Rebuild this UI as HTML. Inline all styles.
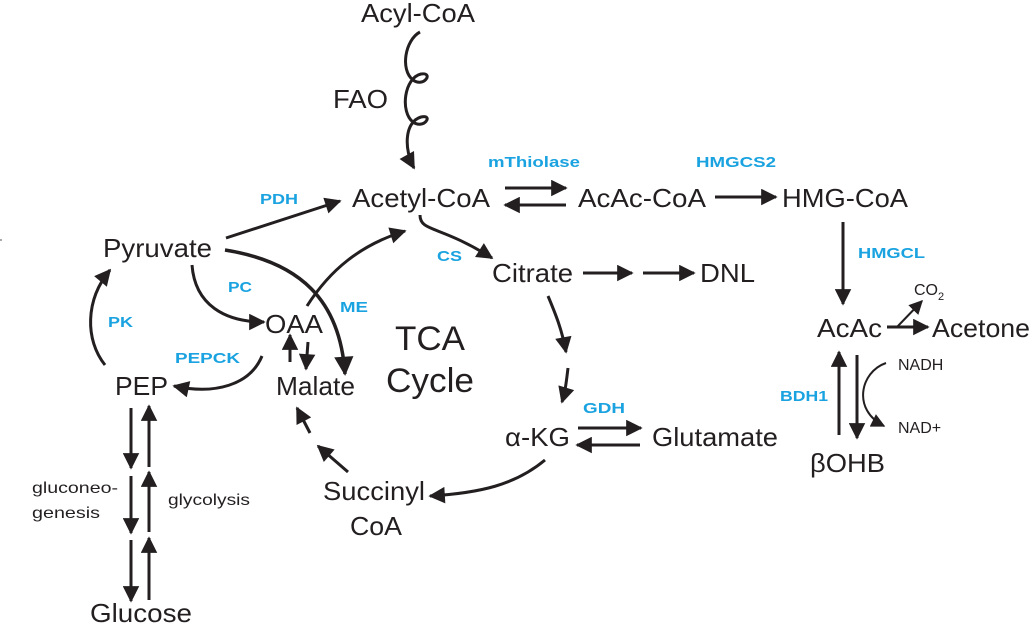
<!DOCTYPE html>
<html><head><meta charset="utf-8"><style>
html,body{margin:0;padding:0;background:#fff;}
svg{display:block;}
text{font-family:"Liberation Sans",Arial,Helvetica,sans-serif;fill:#231f20;}
.b{fill:#1aa3e0;font-weight:bold;font-size:15px;}
.m{font-size:26px;}
.s{font-size:16px;}
</style></head><body>
<svg width="1032" height="628" viewBox="0 0 1032 628">
<defs>
<marker id="a" viewBox="0 0 10 10" refX="9" refY="5" markerWidth="6" markerHeight="5.5" orient="auto" markerUnits="strokeWidth"><path d="M0,0L10,5L0,10z" fill="#231f20"/></marker>
<marker id="as" viewBox="0 0 10 10" refX="9" refY="5" markerWidth="7" markerHeight="7" orient="auto" markerUnits="strokeWidth"><path d="M0,0L10,5L0,10z" fill="#231f20"/></marker>
</defs>
<g fill="none" stroke="#231f20" stroke-width="3">
<path d="M420,32 C405,40 400,70 413,80 C424,88 434,72 421,74 C404,78 400,112 413,122 C424,130 434,114 421,117 C404,122 404,150 414,168" marker-end="url(#a)"/>
<line x1="505" y1="188" x2="566" y2="188" marker-end="url(#a)"/>
<line x1="566" y1="205" x2="505" y2="205" marker-end="url(#a)"/>
<line x1="715" y1="197" x2="776" y2="197" marker-end="url(#a)"/>
<line x1="843" y1="222" x2="843" y2="304" marker-end="url(#a)"/>
<line x1="887" y1="327" x2="928" y2="327" marker-end="url(#a)"/>
<line x1="897" y1="327" x2="922" y2="301" stroke-width="2" marker-end="url(#as)"/>
<line x1="839" y1="435" x2="839" y2="352" marker-end="url(#a)"/>
<line x1="857" y1="355" x2="857" y2="438" marker-end="url(#a)"/>
<path d="M886,363 C860,372 852,410 884,426" stroke-width="2" marker-end="url(#as)"/>
<line x1="226" y1="238" x2="340" y2="201" marker-end="url(#a)"/>
<path d="M225,250 C300,262 340,300 345,374" stroke-width="3.5" marker-end="url(#a)"/>
<path d="M192,265 C195,305 225,322 264,322" marker-end="url(#a)"/>
<path d="M307,306 C330,270 360,245 405,231" marker-end="url(#a)"/>
<path d="M420,215 C420,232 440,225 492,258" marker-end="url(#a)"/>
<line x1="583" y1="273" x2="632" y2="273" marker-end="url(#a)"/>
<line x1="643" y1="273" x2="694" y2="273" marker-end="url(#a)"/>
<path d="M548,296 C556,315 562,330 566,352" marker-end="url(#a)"/>
<path d="M568,368 C566,385 565,392 562,402" marker-end="url(#a)"/>
<line x1="578" y1="428" x2="641" y2="428" marker-end="url(#a)"/>
<line x1="640" y1="445" x2="577" y2="445" marker-end="url(#a)"/>
<path d="M545,460 C515,485 480,493 430,496" marker-end="url(#a)"/>
<line x1="348" y1="472" x2="318" y2="446" marker-end="url(#a)"/>
<line x1="310" y1="433" x2="297" y2="408" marker-end="url(#a)"/>
<line x1="290" y1="362" x2="290" y2="335" marker-end="url(#a)"/>
<line x1="308" y1="342" x2="306" y2="369" marker-end="url(#a)"/>
<path d="M262,356 C250,385 215,395 174,386" marker-end="url(#a)"/>
<path d="M105,365 C85,340 85,300 110,270" marker-end="url(#a)"/>
<line x1="131" y1="408" x2="131" y2="468" marker-end="url(#a)"/>
<line x1="131" y1="476" x2="131" y2="533" marker-end="url(#a)"/>
<line x1="131" y1="540" x2="131" y2="601" marker-end="url(#a)"/>
<line x1="149" y1="467" x2="149" y2="406" marker-end="url(#a)"/>
<line x1="149" y1="532" x2="149" y2="472" marker-end="url(#a)"/>
<line x1="149" y1="600" x2="149" y2="538" marker-end="url(#a)"/>
</g>
<line x1="0" y1="240" x2="2" y2="240" stroke="#555" stroke-width="1"/>
<g lengthAdjust="spacingAndGlyphs">
<text class="m" x="361" y="22" textLength="114" lengthAdjust="spacingAndGlyphs">Acyl-CoA</text>
<text class="m" x="333" y="108" textLength="55" lengthAdjust="spacingAndGlyphs">FAO</text>
<text class="m" x="352" y="207" textLength="138" lengthAdjust="spacingAndGlyphs">Acetyl-CoA</text>
<text class="m" x="578" y="207" textLength="128" lengthAdjust="spacingAndGlyphs">AcAc-CoA</text>
<text class="m" x="782" y="207" textLength="126" lengthAdjust="spacingAndGlyphs">HMG-CoA</text>
<text class="m" x="817" y="337" textLength="65" lengthAdjust="spacingAndGlyphs">AcAc</text>
<text class="m" x="932" y="337" textLength="98" lengthAdjust="spacingAndGlyphs">Acetone</text>
<text class="s" x="914" y="295">CO<tspan font-size="11" dy="5">2</tspan></text>
<text class="s" x="898" y="370">NADH</text>
<text class="s" x="898" y="433">NAD+</text>
<text class="m" x="810" y="472" textLength="75" lengthAdjust="spacingAndGlyphs">βOHB</text>
<text class="m" x="103" y="257" textLength="109" lengthAdjust="spacingAndGlyphs">Pyruvate</text>
<text class="m" x="265" y="333" textLength="58" lengthAdjust="spacingAndGlyphs">OAA</text>
<text class="m" x="276" y="395" textLength="79" lengthAdjust="spacingAndGlyphs">Malate</text>
<text class="m" x="492" y="282" textLength="81" lengthAdjust="spacingAndGlyphs">Citrate</text>
<text class="m" x="700" y="282" textLength="55" lengthAdjust="spacingAndGlyphs">DNL</text>
<text x="395" y="350" font-size="34" textLength="70" lengthAdjust="spacingAndGlyphs">TCA</text>
<text x="386" y="392" font-size="34" textLength="88" lengthAdjust="spacingAndGlyphs">Cycle</text>
<text class="m" x="505" y="446" textLength="65" lengthAdjust="spacingAndGlyphs">α-KG</text>
<text class="m" x="652" y="446" textLength="126" lengthAdjust="spacingAndGlyphs">Glutamate</text>
<text class="m" x="323" y="500" textLength="102" lengthAdjust="spacingAndGlyphs">Succinyl</text>
<text class="m" x="350" y="535" textLength="52" lengthAdjust="spacingAndGlyphs">CoA</text>
<text class="m" x="115" y="395" textLength="53" lengthAdjust="spacingAndGlyphs">PEP</text>
<text class="m" x="90" y="622" textLength="102" lengthAdjust="spacingAndGlyphs">Glucose</text>
<text class="s" x="32" y="493" textLength="86" lengthAdjust="spacingAndGlyphs">gluconeo-</text>
<text class="s" x="32" y="518" textLength="68" lengthAdjust="spacingAndGlyphs">genesis</text>
<text class="s" x="168" y="505" textLength="82" lengthAdjust="spacingAndGlyphs">glycolysis</text>
<text class="b" x="488" y="167" textLength="92" lengthAdjust="spacingAndGlyphs">mThiolase</text>
<text class="b" x="696" y="167" textLength="80" lengthAdjust="spacingAndGlyphs">HMGCS2</text>
<text class="b" x="858" y="258" textLength="67" lengthAdjust="spacingAndGlyphs">HMGCL</text>
<text class="b" x="780" y="401" textLength="48" lengthAdjust="spacingAndGlyphs">BDH1</text>
<text class="b" x="260" y="204" textLength="38" lengthAdjust="spacingAndGlyphs">PDH</text>
<text class="b" x="228" y="292" textLength="24" lengthAdjust="spacingAndGlyphs">PC</text>
<text class="b" x="340" y="312" textLength="28" lengthAdjust="spacingAndGlyphs">ME</text>
<text class="b" x="437" y="261" textLength="25" lengthAdjust="spacingAndGlyphs">CS</text>
<text class="b" x="583" y="413" textLength="42" lengthAdjust="spacingAndGlyphs">GDH</text>
<text class="b" x="175" y="363" textLength="65" lengthAdjust="spacingAndGlyphs">PEPCK</text>
<text class="b" x="108" y="327" textLength="25" lengthAdjust="spacingAndGlyphs">PK</text>
</g>
</svg>
</body></html>
